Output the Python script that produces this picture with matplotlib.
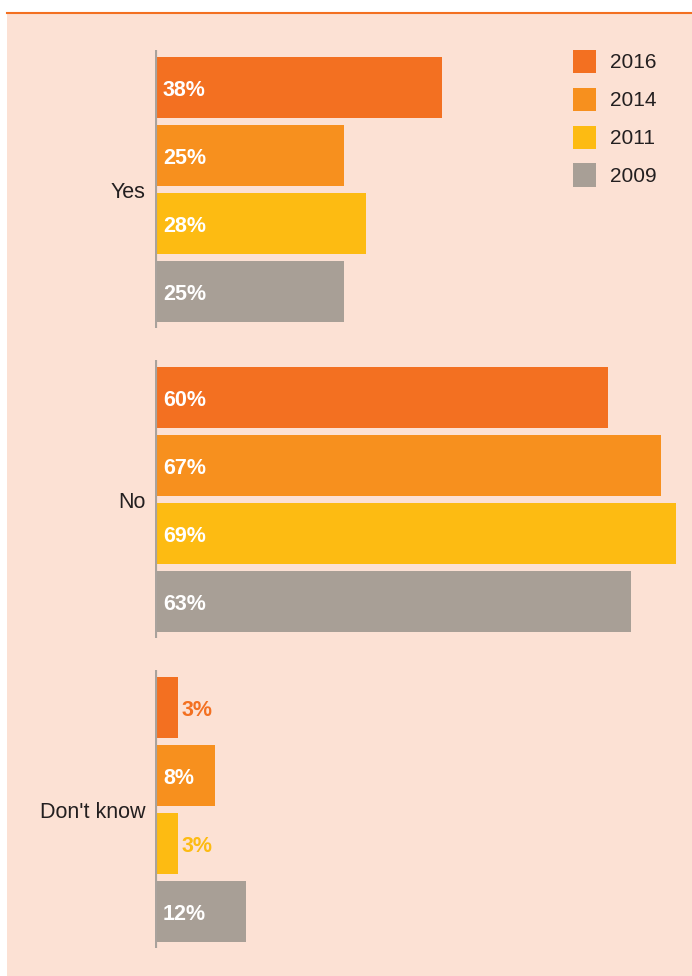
import matplotlib
matplotlib.use("Agg")
import matplotlib.pyplot as plt
from matplotlib.patches import Rectangle
from matplotlib.lines import Line2D

plt.rcParams['font.family'] = ['Liberation Sans', 'DejaVu Sans']

# survey answers by year
answers = ["Yes", "No", "Don't know"]
years = ["2016", "2014", "2011", "2009"]
pct_2016 = [38, 60, 3]
pct_2014 = [25, 67, 8]
pct_2011 = [28, 69, 3]
pct_2009 = [25, 63, 12]

colours = ["#F37021", "#F7901E", "#FDBB12", "#A89F96"]
peach = "#FCE1D4"
ink = "#231F20"
axis_grey = "#A9A29C"

W, H = 692, 976
fig = plt.figure(figsize=(W / 100, H / 100), dpi=100, facecolor="white")

# panel background and top rule (kept under the axes)
fig.patches.append(Rectangle((7 / W, 0), 1, (H - 13) / H, transform=fig.transFigure,
                             facecolor=peach, edgecolor="none", zorder=-10))
fig.lines.append(Line2D([7 / W, 1], [(H - 12.5) / H] * 2, transform=fig.transFigure,
                        color="#F37021", lw=1.5, zorder=-9))

px_per_pct = 7.55
x0 = 155
ax = fig.add_axes([x0 / W, 0, (W - x0) / W, 1])
ax.set_facecolor("none")
ax.set_xlim(0, (W - x0) / px_per_pct)
ax.set_ylim(H, 0)  # y in pixels from the top

group_pitch = 310
slot_pitch = 68
first_centre = 87.5
bar_h = 61
label_drop = 3  # value labels sit a touch below bar centre

series = [pct_2016, pct_2014, pct_2011, pct_2009]
handles = []
for s, (vals, col, yr) in enumerate(zip(series, colours, years)):
    ys = [first_centre + g * group_pitch + s * slot_pitch for g in range(len(answers))]
    bars = ax.barh(ys, vals, height=bar_h, color=col, label=yr, zorder=2)
    handles.append(bars)
    for y, v in zip(ys, vals):
        if v < 5:
            ax.text(v + 4 / px_per_pct, y + label_drop, f"{v}%", color=col, fontsize=15.5,
                    fontweight="bold", ha="left", va="center", zorder=3)
        else:
            ax.text(8 / px_per_pct, y + label_drop, f"{v}%", color="white", fontsize=15.5,
                    fontweight="bold", ha="left", va="center", zorder=3)

# broken axis line, one piece per group
for g in range(len(answers)):
    top = first_centre + g * group_pitch - 37.5
    bottom = first_centre + g * group_pitch + 3 * slot_pitch + 36.5
    ax.vlines(0, top, bottom, color=axis_grey, lw=3, zorder=4)

centres = [first_centre + g * group_pitch + 1.5 * slot_pitch for g in range(len(answers))]
ax.set_yticks(centres)
ax.set_yticklabels(answers, fontsize=15.5, color=ink)
ax.tick_params(axis="y", length=0, pad=7)
ax.set_xticks([])
for sp in ax.spines.values():
    sp.set_visible(False)

leg = ax.legend(handles=handles, loc="upper left",
                bbox_to_anchor=(573 / W, (H - 50) / H), bbox_transform=fig.transFigure,
                frameon=False, fontsize=15, handlelength=1.106, handleheight=1.324,
                handletextpad=0.68, labelspacing=0.71, borderpad=0, borderaxespad=0)
for t in leg.get_texts():
    t.set_color(ink)

fig.savefig("out.png", dpi=100, facecolor="white")
